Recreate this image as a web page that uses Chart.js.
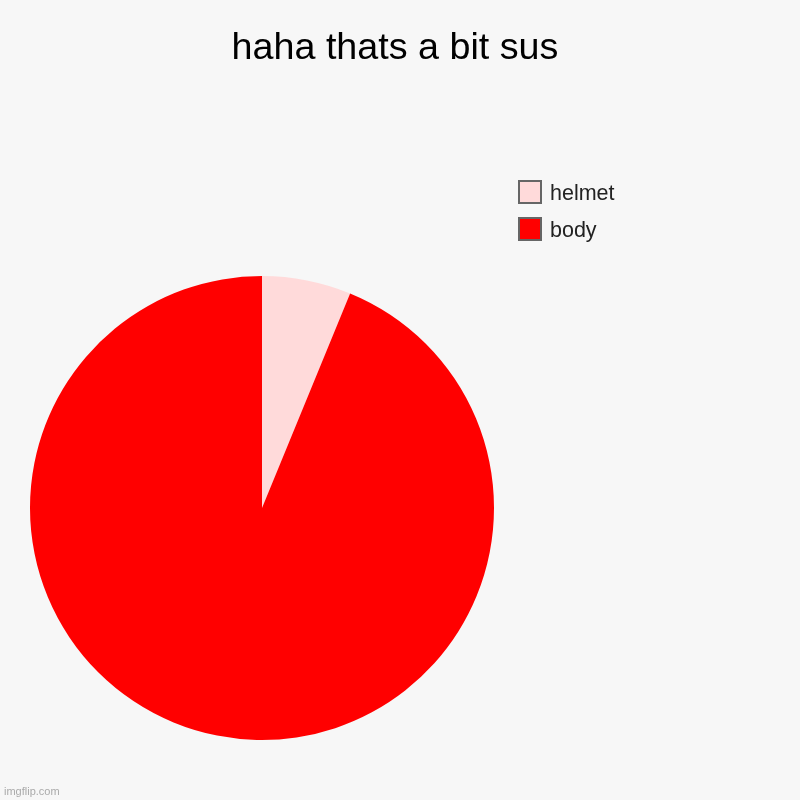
<!DOCTYPE html>
<html lang="en">
<head>
    <meta charset="UTF-8">
    <script src="https://cdn.jsdelivr.net/npm/chart.js"></script>
    <style>
      body { margin: 0; background: #f7f7f7; }
    </style>
</head>
<body>
  <canvas id="myChart" width="800" height="800"></canvas>
<script>
    // data
    const labels = ['helmet', 'body']
    const shares = [6.2, 93.8]
    const colors = ['rgb(255, 218, 218)', 'rgb(255, 0, 0)']
    const titleText = 'haha thats a bit sus'

    // background, title, legend and watermark drawn on the canvas
    const extras = {
      id: 'extras',
      beforeDraw(chart) {
        const ctx = chart.ctx
        ctx.save()
        ctx.fillStyle = '#f7f7f7'
        ctx.fillRect(0, 0, chart.width, chart.height)
        ctx.restore()
      },
      afterDraw(chart) {
        const ctx = chart.ctx
        ctx.save()
        ctx.fillStyle = '#000'
        ctx.font = '37.7px "Liberation Sans", Arial, sans-serif'
        ctx.textAlign = 'center'
        ctx.textBaseline = 'alphabetic'
        ctx.fillText(titleText, 395, 59)

        // legend
        const ds = chart.data.datasets[0]
        ctx.textAlign = 'left'
        ctx.font = '21.5px "Liberation Sans", Arial, sans-serif'
        chart.data.labels.forEach((lab, i) => {
          const y = 181 + i * 37
          ctx.fillStyle = ds.backgroundColor[i]
          ctx.fillRect(519, y, 22, 22)
          ctx.strokeStyle = '#666'
          ctx.lineWidth = 2
          ctx.strokeRect(519, y, 22, 22)
          ctx.fillStyle = '#222'
          ctx.fillText(lab, 550, y + 19)
        })

        ctx.fillStyle = '#aaa'
        ctx.font = '11px "Liberation Sans", Arial, sans-serif'
        ctx.fillText('imgflip.com', 4, 795)
        ctx.restore()
      }
    }

    const ctx = document.getElementById('myChart')
    new Chart(ctx, {
      type: 'pie',
      data: {
        labels: labels,
        datasets: [{
          data: shares,
          backgroundColor: colors,
          borderWidth: 0
        }]
      },
      options: {
        responsive: false,
        animation: false,
        layout: { padding: { left: 30, top: 276, right: 306, bottom: 60 } },
        plugins: {
          legend: { display: false },
          title: { display: false },
          tooltip: { enabled: false }
        }
      },
      plugins: [extras]
    })
</script>
</body>
</html>
